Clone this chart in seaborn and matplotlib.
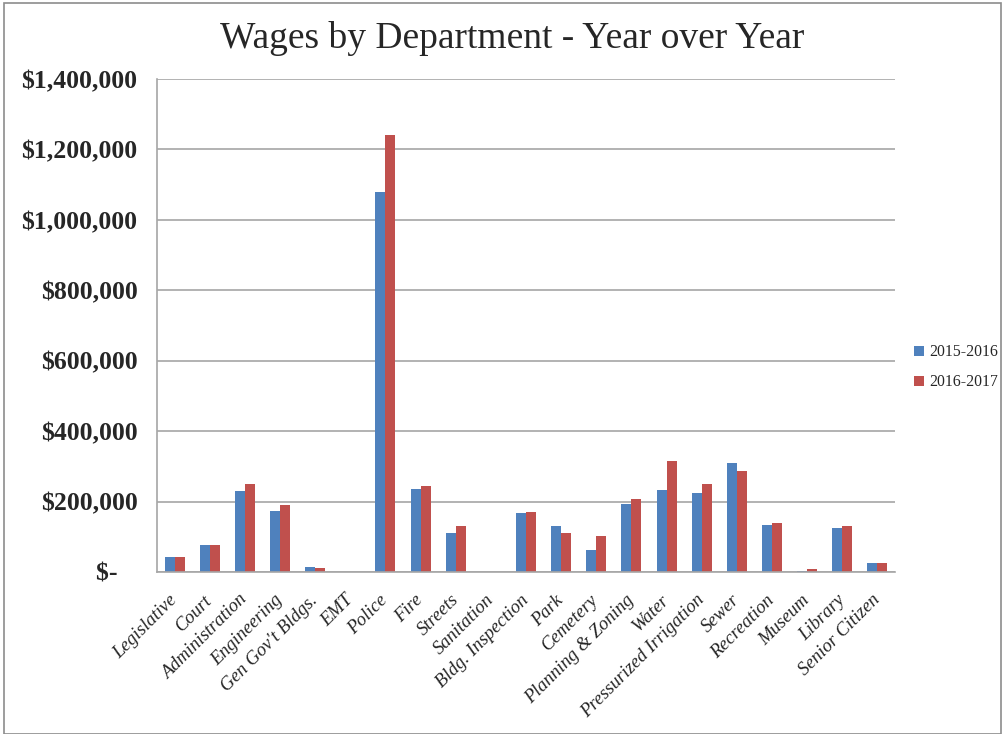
import numpy as np
import pandas as pd
import matplotlib.pyplot as plt
import matplotlib.transforms as mtransforms
import seaborn as sns
from matplotlib.ticker import FuncFormatter

departments = ["Legislative", "Court", "Administration", "Engineering", "Gen Gov't Bldgs.",
               "EMT", "Police", "Fire", "Streets", "Sanitation", "Bldg. Inspection", "Park",
               "Cemetery", "Planning & Zoning", "Water", "Pressurized Irrigation", "Sewer",
               "Recreation", "Museum", "Library", "Senior Citizen"]
wages_2015 = [42000, 77000, 230000, 174000, 15000, 0, 1080000, 236000, 112000, 0, 168000,
              130000, 62000, 192000, 232000, 223000, 310000, 133000, 3000, 124000, 25000]
wages_2016 = [43500, 77000, 250000, 189000, 10000, 0, 1241000, 244000, 130000, 0, 170000,
              110000, 103000, 207000, 314000, 250000, 288000, 139000, 8000, 130000, 25000]
years = ["2015-2016", "2016-2017"]

df = pd.DataFrame({
    "department": departments * 2,
    "wages": wages_2015 + wages_2016,
    "year": [years[0]] * len(departments) + [years[1]] * len(departments),
})

sns.set_style("white")
plt.rcParams["font.family"] = ["Liberation Serif", "DejaVu Serif"]

fig = plt.figure(figsize=(10.05, 7.34), dpi=100)
ax = fig.add_axes([157 / 1005, 1 - 572 / 734, 738 / 1005, 493 / 734])

sns.barplot(data=df, x="department", y="wages", hue="year", ax=ax,
            palette=["#4F81BD", "#C0504D"], width=0.57, saturation=1,
            edgecolor="none", legend=True)

ax.set_ylim(0, 1400000)
ax.set_yticks(np.arange(0, 1400001, 200000))
ax.yaxis.set_major_formatter(FuncFormatter(lambda v, p: "$-   " if v == 0 else f"${v:,.0f}"))
ax.grid(axis="y", color="#a6a6a6", linewidth=1.2)
ax.set_axisbelow(True)
for side in ["top", "right"]:
    ax.spines[side].set_visible(False)
for side in ["left", "bottom"]:
    ax.spines[side].set_color("#a6a6a6")
    ax.spines[side].set_linewidth(1.2)
ax.set_xlim(-0.5, len(departments) - 0.5)
ax.set_xlabel("")
ax.set_ylabel("")
ax.tick_params(axis="y", labelsize=18.5, length=0, pad=14)
ax.tick_params(axis="x", labelsize=13.5, length=0, pad=4)
for t in ax.get_yticklabels():
    t.set_fontweight("bold")
shift = mtransforms.ScaledTranslation(-6 / 100, -14 / 100, fig.dpi_scale_trans)
for t in ax.get_xticklabels():
    t.set_rotation(45)
    t.set_ha("right")
    t.set_rotation_mode("anchor")
    t.set_style("italic")
    t.set_transform(t.get_transform() + shift)

ax.legend(loc="center left", bbox_to_anchor=(1.026, 0.415), frameon=False, fontsize=11.3,
          handlelength=0.6, handleheight=0.6, handletextpad=0.35, labelspacing=0.9,
          borderpad=0, borderaxespad=0)

fig.text(512 / 1005, 1 - 38 / 734, "Wages by Department - Year over Year", ha="center",
         va="center", fontsize=27)

fig.patches.append(plt.Rectangle((0.004, 0.0), 0.992, 0.996, transform=fig.transFigure,
                                 fill=False, edgecolor="#8c8c8c", linewidth=1.2))

fig.savefig("out.png", dpi=100)
